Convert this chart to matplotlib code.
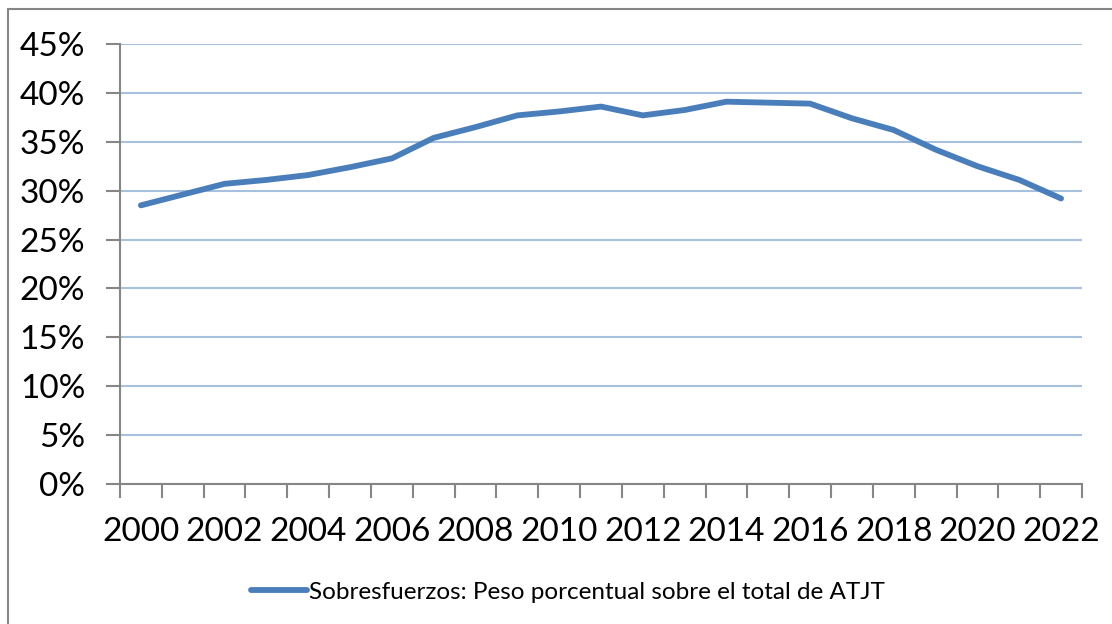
import numpy as np
import matplotlib.pyplot as plt
from matplotlib.patches import Rectangle
from matplotlib.ticker import FixedLocator, PercentFormatter

# ---- data ----
years = list(range(2000, 2023))
share = [28.5, 29.6, 30.7, 31.1, 31.6, 32.4, 33.3, 35.4, 36.5, 37.7, 38.1, 38.6,
         37.7, 38.25, 39.1, 39.0, 38.9, 37.4, 36.2, 34.2, 32.5, 31.1, 29.2]
series_label = "Sobresfuerzos: Peso porcentual sobre el total de ATJT"

W, H, DPI = 1112, 624, 100
plt.rcParams['font.family'] = ['Lato', 'DejaVu Sans']

fig = plt.figure(figsize=(W / DPI, H / DPI), dpi=DPI)
fig.patch.set_facecolor("white")

# axes rectangle in pixels: left 120, right 1082, top 44, bottom 484
ax = fig.add_axes([120 / W, 1 - 484 / H, (1082 - 120) / W, (484 - 44) / H])

x = np.arange(len(years))
ax.plot(x, share, color="#4a7ebb", lw=4.2, solid_capstyle="round",
        solid_joinstyle="round", label=series_label, zorder=3)

ax.set_xlim(-0.5, len(years) - 0.5)
ax.set_ylim(0, 45)
ax.set_yticks(np.arange(0, 46, 5))
ax.yaxis.set_major_formatter(PercentFormatter(decimals=0))
ax.yaxis.grid(True, color="#a7c0de", lw=1.5, zorder=0)

# category-style x axis: ticks between categories, labels every 2 years
ax.xaxis.set_major_locator(FixedLocator(np.arange(-0.5, len(years), 1)))
ax.set_xticklabels([])
ax.xaxis.set_minor_locator(FixedLocator(x[::2]))
ax.set_xticklabels([str(y) for y in years[::2]], minor=True)
ax.tick_params(axis="x", which="major", length=10, width=1.5, color="#868686")
ax.tick_params(axis="x", which="minor", length=0, pad=24, labelsize=24)
ax.tick_params(axis="y", length=10, width=1.5, color="#868686", pad=15, labelsize=24)

for s in ["top", "right"]:
    ax.spines[s].set_visible(False)
for s in ["left", "bottom"]:
    ax.spines[s].set_color("#868686")
    ax.spines[s].set_linewidth(1.5)

leg = ax.legend(loc="center", bbox_to_anchor=(568 / W, 1 - 592 / H),
                bbox_transform=fig.transFigure, frameon=False, fontsize=17.5,
                handlelength=2.3, handletextpad=0.1)

# chart-area border (right and bottom edges fall outside the image)
fig.patches.append(Rectangle((8 / W, -0.1), 1.2, 1 - 9 / H + 0.1,
                             transform=fig.transFigure, fill=False,
                             edgecolor="#868686", lw=1.5))

fig.savefig("out.png", dpi=DPI, facecolor="white")
